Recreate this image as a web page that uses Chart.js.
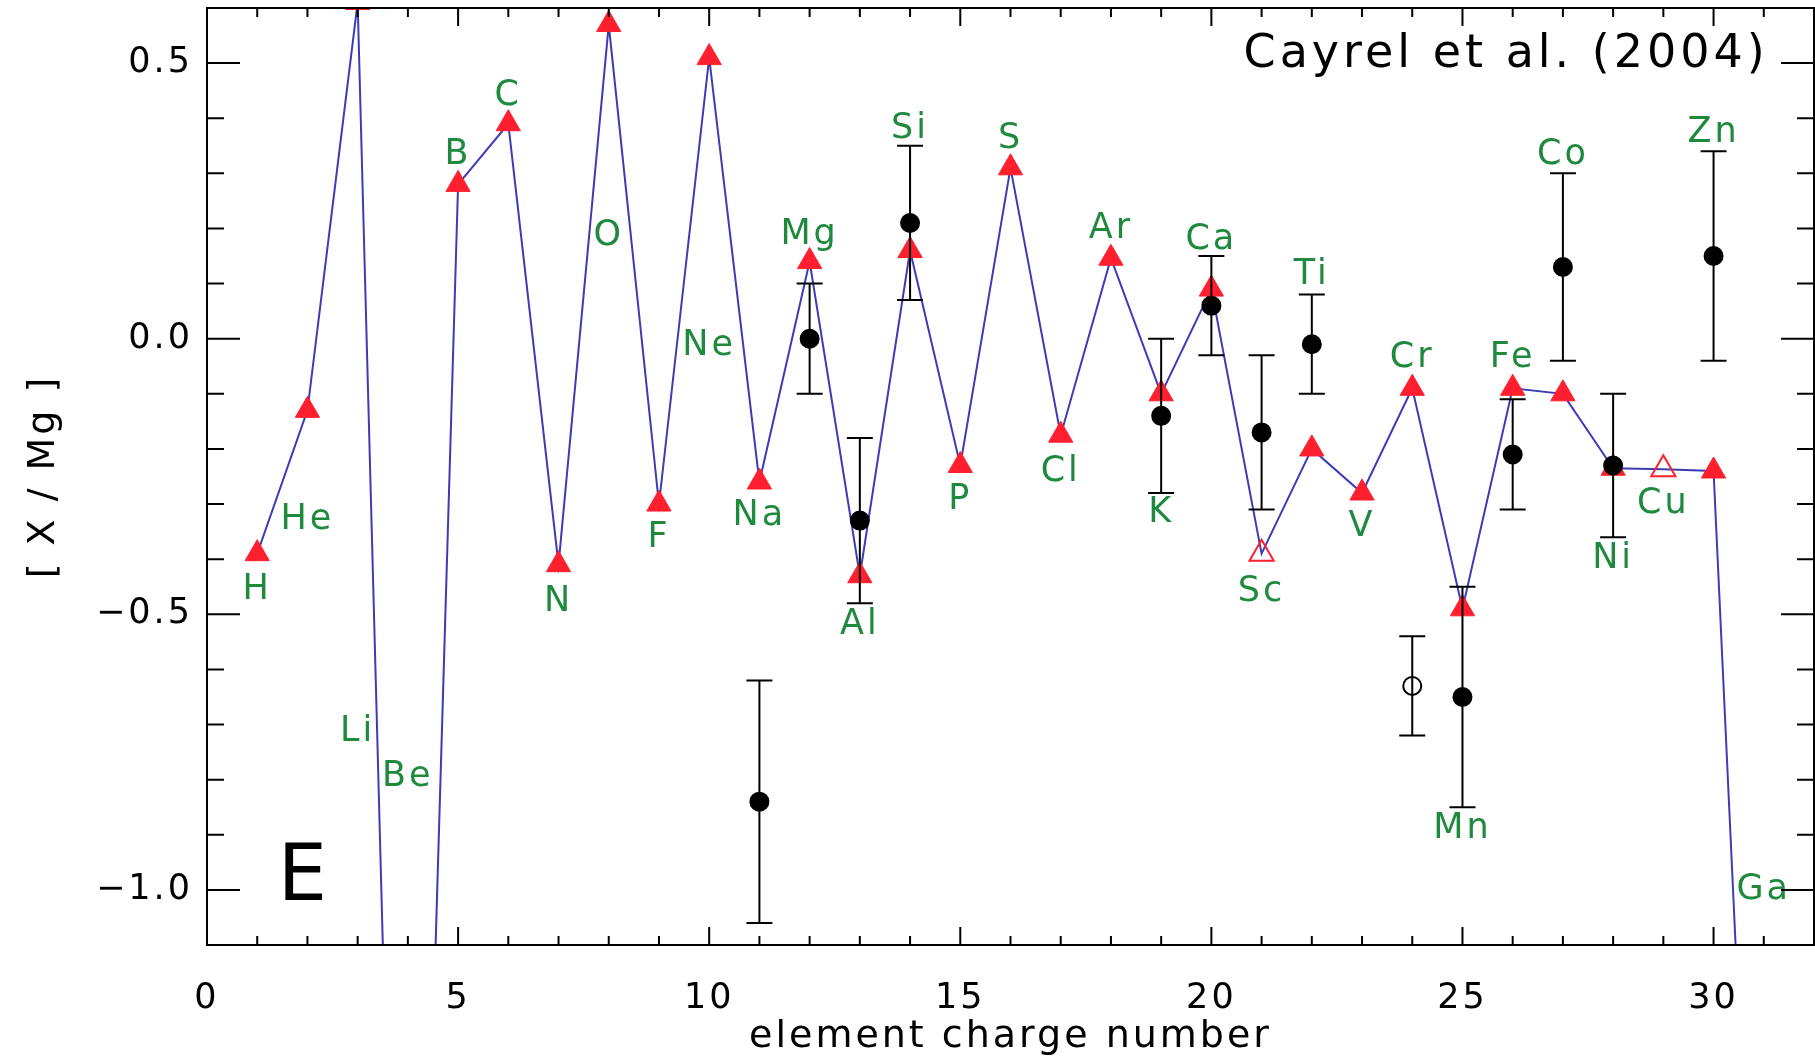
<!DOCTYPE html>
<html>
<head>
<meta charset="utf-8">
<script src="https://cdn.jsdelivr.net/npm/chart.js@4.4.0/dist/chart.umd.min.js"></script>
<style>
  html, body { margin: 0; padding: 0; background: #fff; }
  #wrap { width: 1815px; height: 1058px; }
</style>
</head>
<body>
<div id="wrap"><canvas id="chart"></canvas></div>
<script>
// model yields, one per element charge number 1..31
let charges = [1, 2, 3, 4, 5, 6, 7, 8, 9, 10, 11, 12, 13, 14, 15, 16, 17, 18, 19, 20,
               21, 22, 23, 24, 25, 26, 27, 28, 29, 30, 31];
let elements = ['H', 'He', 'Li', 'Be', 'B', 'C', 'N', 'O', 'F', 'Ne', 'Na', 'Mg', 'Al', 'Si', 'P', 'S',
                'Cl', 'Ar', 'K', 'Ca', 'Sc', 'Ti', 'V', 'Cr', 'Mn', 'Fe', 'Co', 'Ni', 'Cu', 'Zn', 'Ga'];
let modelValues = [-0.39, -0.13, 0.61, -2.8, 0.28, 0.39, -0.41, 0.57, -0.30, 0.51, -0.26, 0.14, -0.43,
                   0.16, -0.23, 0.31, -0.175, 0.146, -0.10, 0.09, -0.39, -0.20, -0.28, -0.09, -0.49,
                   -0.09, -0.10, -0.235, -0.237, -0.24, -2.2];
let openModel = [21, 29];   // drawn as open triangles
let labelY = [-0.455, -0.328, -0.713, -0.795, 0.333, 0.441, -0.477, 0.186, -0.362, -0.013, -0.322,
              0.188, -0.519, 0.381, -0.293, 0.362, -0.241, 0.199, -0.316, 0.18, -0.459, 0.115,
              -0.341, -0.034, -0.89, -0.034, 0.334, -0.40, -0.30, 0.373, -1.0];

// Cayrel et al. (2004) observed abundances
let obsCharges = [11, 12, 13, 14, 19, 20, 21, 22, 24, 25, 26, 27, 28, 30];
let obsValues = [-0.84, 0.00, -0.33, 0.21, -0.14, 0.06, -0.17, -0.01, -0.63, -0.65, -0.21, 0.13, -0.23, 0.15];
let obsErrors = [0.22, 0.10, 0.15, 0.14, 0.14, 0.09, 0.14, 0.09, 0.09, 0.20, 0.10, 0.17, 0.13, 0.19];
let openObs = [24];

let xTicks = [0, 5, 10, 15, 20, 25, 30];
let yTicks = [-1.0, -0.5, 0.0, 0.5];

const RED = '#ff1f2e';
const BLUE = '#3c3cb4';
const GREEN = '#1f8a3e';
const FONT = 'DejaVu Sans';

let modelPoints = charges.map((z, i) => ({x: z, y: modelValues[i]}));
let obsPoints = obsCharges.map((z, i) => ({x: z, y: obsValues[i]}));

let framePlugin = {
    id: 'frame',
    beforeDraw(chart) {
        chart.ctx.letterSpacing = '3px';
    },
    afterDatasetDraw(chart, args) {
        if (args.index !== 0) return;
        // error bars go over the model line but under the circles
        let ctx = chart.ctx;
        let xs = chart.scales.x, ys = chart.scales.y;
        ctx.save();
        ctx.strokeStyle = '#000';
        ctx.lineWidth = 2;
        for (let i = 0; i < obsCharges.length; i++) {
            let px = xs.getPixelForValue(obsCharges[i]);
            let top = ys.getPixelForValue(obsValues[i] + obsErrors[i]);
            let bot = ys.getPixelForValue(obsValues[i] - obsErrors[i]);
            ctx.beginPath();
            ctx.moveTo(px, top); ctx.lineTo(px, bot);
            ctx.moveTo(px - 13, top); ctx.lineTo(px + 13, top);
            ctx.moveTo(px - 13, bot); ctx.lineTo(px + 13, bot);
            ctx.stroke();
        }
        ctx.restore();
    },
    afterDatasetsDraw(chart) {
        let ctx = chart.ctx;
        let xs = chart.scales.x, ys = chart.scales.y;
        ctx.save();
        ctx.letterSpacing = '3px';
        ctx.fillStyle = GREEN;
        ctx.font = '35px "' + FONT + '"';
        ctx.textAlign = 'center';
        ctx.textBaseline = 'middle';
        for (let i = 0; i < elements.length; i++) {
            ctx.fillText(elements[i], xs.getPixelForValue(charges[i]), ys.getPixelForValue(labelY[i]));
        }
        ctx.fillStyle = '#000';
        ctx.letterSpacing = '4px';
        ctx.font = '46px "' + FONT + '"';
        ctx.textAlign = 'right';
        ctx.fillText('Cayrel et al. (2004)', xs.getPixelForValue(31.1), ys.getPixelForValue(0.515));
        ctx.letterSpacing = '0px';
        ctx.font = '78px "' + FONT + '"';
        ctx.textAlign = 'center';
        ctx.textBaseline = 'alphabetic';
        ctx.fillText('E', xs.getPixelForValue(1.9), ys.getPixelForValue(-1.018));
        ctx.restore();
    },
    afterDraw(chart) {
        let ctx = chart.ctx;
        let a = chart.chartArea;
        let xs = chart.scales.x, ys = chart.scales.y;
        ctx.save();
        ctx.strokeStyle = '#000';
        ctx.lineWidth = 2;
        ctx.strokeRect(a.left, a.top, a.right - a.left, a.bottom - a.top);
        ctx.beginPath();
        // inward ticks, major every 5 / 0.5, minor every 1 / 0.1
        for (let v = 1; v < 32; v++) {
            let len = v % 5 === 0 ? 18 : 9;
            let px = xs.getPixelForValue(v);
            ctx.moveTo(px, a.bottom); ctx.lineTo(px, a.bottom - len);
            ctx.moveTo(px, a.top); ctx.lineTo(px, a.top + len);
        }
        for (let k = -10; k <= 5; k++) {
            let len = k % 5 === 0 ? 33 : 17;
            let py = ys.getPixelForValue(k / 10);
            ctx.moveTo(a.left, py); ctx.lineTo(a.left + len, py);
            ctx.moveTo(a.right, py); ctx.lineTo(a.right - len, py);
        }
        ctx.stroke();
        ctx.restore();
        ctx.letterSpacing = '0px';
    }
};

new Chart(document.getElementById('chart'), {
    type: 'line',
    data: {
        datasets: [
            {
                label: 'Cayrel et al. (2004)',
                data: obsPoints,
                showLine: false,
                order: 1,
                clip: 0,
                pointStyle: 'circle',
                pointRadius: 9,
                pointBorderWidth: 2,
                pointBorderColor: '#000',
                pointBackgroundColor: obsCharges.map(z => openObs.includes(z) ? '#fff' : '#000')
            },
            {
                label: 'model',
                data: modelPoints,
                order: 2,
                clip: 0,
                borderColor: BLUE,
                borderWidth: 2,
                tension: 0,
                pointStyle: 'triangle',
                pointRadius: 14,
                pointBorderColor: RED,
                pointBorderWidth: charges.map(z => openModel.includes(z) ? 2 : 1),
                pointBackgroundColor: charges.map(z => openModel.includes(z) ? 'rgba(0,0,0,0)' : RED)
            }
        ]
    },
    options: {
        responsive: true,
        maintainAspectRatio: false,
        animation: false,
        events: [],
        layout: { autoPadding: false, padding: { top: 8, right: 1, left: 0, bottom: 0 } },
        plugins: {
            legend: { display: false },
            tooltip: { enabled: false }
        },
        scales: {
            x: {
                type: 'linear',
                min: 0,
                max: 32,
                grid: { display: false },
                border: { display: false },
                afterBuildTicks: (scale) => { scale.ticks = xTicks.map(v => ({value: v})); },
                afterFit: (scale) => {
                    scale.height = 113;
                    scale.paddingLeft = 0;
                    scale.paddingRight = 0;
                },
                ticks: {
                    color: '#000',
                    padding: 25,
                    maxRotation: 0,
                    font: { family: FONT, size: 35 },
                    callback: (v) => String(v)
                },
                title: {
                    display: true,
                    text: 'element charge number',
                    color: '#000',
                    padding: { top: 0, bottom: 0 },
                    font: { family: FONT, size: 38, lineHeight: 1.1 }
                }
            },
            y: {
                type: 'linear',
                min: -1.1,
                max: 0.6,
                grid: { display: false },
                border: { display: false },
                afterBuildTicks: (scale) => { scale.ticks = yTicks.map(v => ({value: v})); },
                afterFit: (scale) => {
                    scale.width = 207;
                    scale.paddingTop = 0;
                    scale.paddingBottom = 0;
                },
                ticks: {
                    color: '#000',
                    padding: 6,
                    font: { family: FONT, size: 35 },
                    callback: (v) => (v < 0 ? '\u2212' : '') + Math.abs(v).toFixed(1)
                },
                title: {
                    display: true,
                    text: '[ X / Mg ]',
                    color: '#000',
                    padding: { top: 21, bottom: 0 },
                    font: { family: FONT, size: 38 }
                }
            }
        }
    },
    plugins: [framePlugin]
});
</script>
</body>
</html>
